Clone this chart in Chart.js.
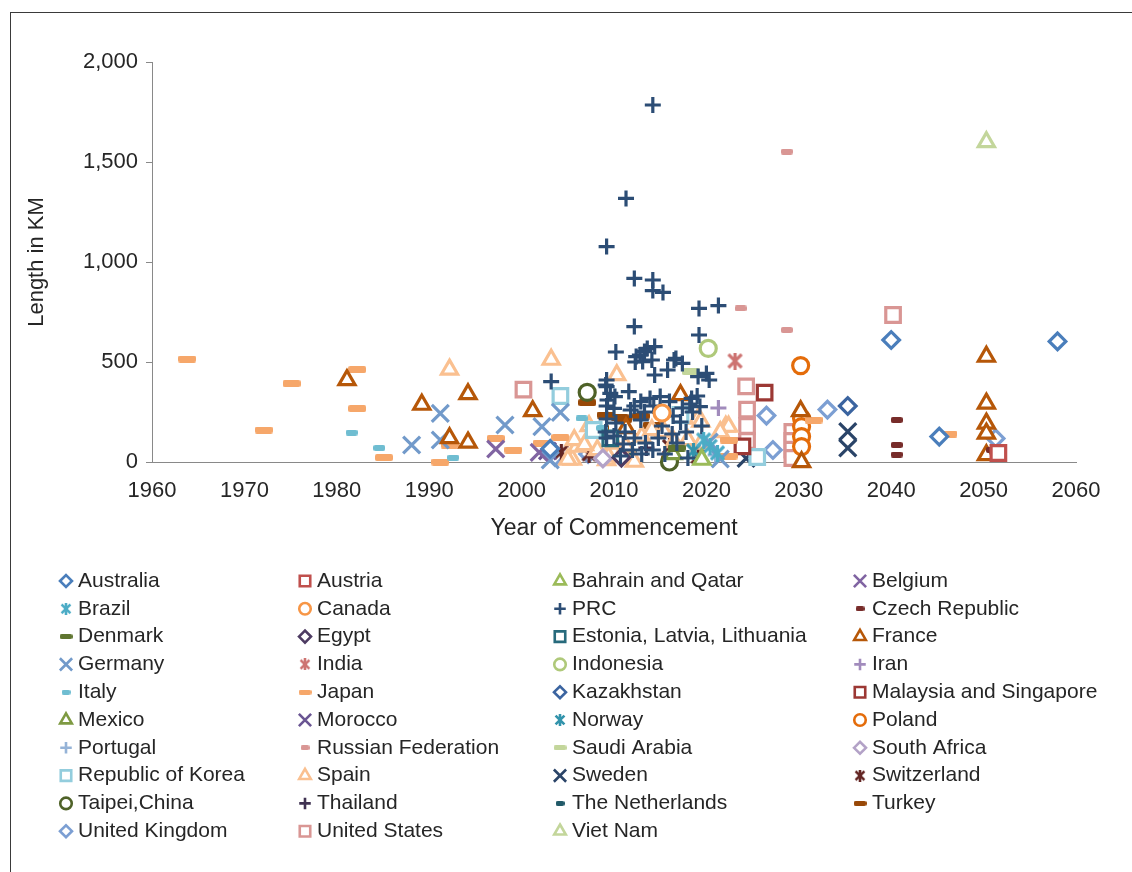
<!DOCTYPE html>
<html><head><meta charset="utf-8">
<script src="https://cdn.jsdelivr.net/npm/chart.js@4.4.1/dist/chart.umd.min.js"></script>
<style>
html,body{margin:0;padding:0;background:#fff;}
#wrap{position:relative;width:1132px;height:872px;overflow:hidden;}
#frame{position:absolute;left:10px;top:12px;width:1140px;height:880px;border:1px solid #3a3a3a;box-sizing:border-box;}
canvas{position:absolute;left:0;top:0;}
</style></head>
<body><div id="wrap"><div id="frame"></div><canvas id="c" width="1132" height="872"></canvas></div>
<script>
// ---- data: [year of commencement, length in km] ----
const australia = [[2040,610],[2058,603],[2045.2,127],[2003.1,66]];
const austria = [[2051.6,45]];
const bahrainQatar = [[2019.5,12]];
const belgium = [[1997.2,65],[2001.9,48]];
const brazil = [[2020.4,78],[2019.7,110],[2021.2,45]];
const canada = [[2015.2,245]];
const prc = [[2014.2,1785],[2011.3,1318],[2009.2,1077],[2012.2,918],[2014.2,910],[2014.2,857],[2015.3,848],[2019.2,768],[2021.3,782],[2012.2,677],[2019.2,635],
  [2003.2,402],[2010.2,550],[2012.4,527],[2012.8,535],[2013.3,552],[2013.6,568],[2014.4,577],[2012.3,500],[2013.1,502],[2014.1,510],[2016.5,510],[2016.7,518],[2017.4,493],[2020,443],[2019.1,427],[2014.4,435],[2015.8,460],[2009.2,410],[2009.1,385],[2009.2,377],[2009.6,343],[2010.1,327],[2011.6,352],[2012.9,302],[2013.9,318],[2015,327],[2016,302],[2018.4,318],[2019.3,277],[2010,268],[2011.8,260],[2015,252],[2012.9,210],
  [2010.2,195],[2011.2,150],[2012.2,120],[2013.4,95],[2014.2,60],[2015.2,180],[2016.3,140],[2017.2,200],[2018.2,290],[2019,330],[2020.3,410],[2009.1,150],[2010,130],[2012.2,280],[2013.3,250],[2014.3,280],[2016.4,230],[2017.4,270],[2018.5,250],[2009.3,310],[2009.2,280],[2009.2,215],[2009.2,120],[2011,90],[2013,40],[2015.5,40],[2017.8,150],[2019.5,180],[2018,20],[2014.8,120],[2016.8,95],[2012,60],[2010.7,30]];
const czechRepublic = [[2040.6,210],[2040.6,85],[2040.6,37],[2050.9,60]];
const denmark = [[2016.8,70]];
const egypt = [[2010.8,22]];
const estonia = [[2009.6,118]];
const france = [[1981.1,410],[1989.2,287],[1992.2,120],[1994.2,340],[1994.2,98],[2001.2,255],[2011.3,170],[2017.2,335],[2030.2,255],[2030.3,0],[2050.3,527],[2050.3,293],[2050.3,193],[2050.3,143],[2050.3,35]];
const germany = [[1988.1,85],[1991.2,243],[1991.2,110],[1998.2,185],[2002.2,177],[2004.2,248],[2003.1,10],[2021.5,15],[2020.3,100]];
const india = [[2023.1,505]];
const indonesia = [[2020.2,568]];
const iran = [[2021.3,270]];
const italy = [[1981.6,147],[1984.6,70],[1992.6,22],[2006.5,218],[2008.7,170]];
const japan = [[1963.8,515],[1972.1,160],[1975.1,392],[1982.2,462],[1982.2,267],[1985.1,22],[1991.2,0],[1992.2,85],[1997.2,118],[1999.1,60],[2002.2,95],[2004.2,123],[2022.4,110],[2022.4,30],[2031.6,210],[2046.2,140]];
const kazakhstan = [[2035.3,280]];
const malaysiaSingapore = [[2026.3,347],[2023.9,78]];
const mexico = [[2016.4,40]];
const morocco = [[2002.8,55]];
const norway = [[2018.6,55]];
const poland = [[2030.2,482],[2030.3,218],[2030.3,177],[2030.3,127],[2030.3,77]];
const portugal = [[2021,35]];
const russia = [[2028.7,1552],[2023.7,768],[2028.7,660]];
const saudiArabia = [[2018.3,452]];
const southAfrica = [[2008.8,18]];
const korea = [[2004.2,330],[2017.2,235],[2025.5,25],[2007.8,160]];
const spain = [[1992.2,463],[2003.2,512],[2010.3,435],[2005.5,12],[2007.3,180],[2006,77],[2008.2,60],[2010,93],[2011,27],[2009.2,10],[2005,12],[2019.1,218],[2022.1,177],[2013,127],[2014.1,160],[2015.4,152],[2011.3,77],[2009.4,27],[2005.7,110],[2006.8,85],[2018,110],[2019.4,93],[2012.2,2],[2019.4,202],[2022.4,177],[2016.5,100],[2021.5,150]];
const sweden = [[2035.3,152],[2035.3,70],[2024.3,18]];
const switzerland = [[2004.3,50],[2016,77],[2019.1,27],[2007.3,40]];
const taipei = [[2007.1,348],[2016,0]];
const thailand = [[2013.5,70]];
const netherlands = [[2011.8,45]];
const turkey = [[2007.1,297],[2009.1,235],[2010.6,225],[2011,213],[2014.1,185],[2016.1,18],[2012.9,230],[2008.5,170]];
const unitedKingdom = [[2026.5,232],[2033.1,262],[2027.2,60],[2007.2,40],[2051.3,118],[2003.6,25]];
const unitedStates = [[2000.2,362],[2040.2,735],[2024.3,378],[2024.4,262],[2024.4,180],[2024.4,105],[2029.3,150],[2029.3,105],[2029.3,62],[2029.3,20]];
const vietNam = [[2050.3,1600]];

const xTicks = [1960,1970,1980,1990,2000,2010,2020,2030,2040,2050,2060];
const yTicks = [0,500,1000,1500,2000];

// ---- series: label, data, marker, colour ----
const series = [
 ['Australia', australia, 'diamond', '#4A7EBB'],
 ['Austria', austria, 'square', '#C0504D'],
 ['Bahrain and Qatar', bahrainQatar, 'triangle', '#9BBB59'],
 ['Belgium', belgium, 'x', '#8064A2'],
 ['Brazil', brazil, 'star', '#4BACC6'],
 ['Canada', canada, 'circle', '#F79646'],
 ['PRC', prc, 'plus', '#2C4D75'],
 ['Czech Republic', czechRepublic, 'shortdash', '#772C2A'],
 ['Denmark', denmark, 'longdash', '#5F7530'],
 ['Egypt', egypt, 'diamond', '#4D3B62'],
 ['Estonia, Latvia, Lithuania', estonia, 'square', '#276A7C'],
 ['France', france, 'triangle', '#B65708'],
 ['Germany', germany, 'x', '#729ACA'],
 ['India', india, 'star', '#CD7371'],
 ['Indonesia', indonesia, 'circle', '#AFC97A'],
 ['Iran', iran, 'plus', '#A18BBC'],
 ['Italy', italy, 'shortdash', '#6FBDD1'],
 ['Japan', japan, 'longdash', '#F6A76A'],
 ['Kazakhstan', kazakhstan, 'diamond', '#3B64A0'],
 ['Malaysia and Singapore', malaysiaSingapore, 'square', '#9C3834'],
 ['Mexico', mexico, 'triangle', '#7E9A42'],
 ['Morocco', morocco, 'x', '#6A5593'],
 ['Norway', norway, 'star', '#3394AC'],
 ['Poland', poland, 'circle', '#E46C0A'],
 ['Portugal', portugal, 'plus', '#95B3D7'],
 ['Russian Federation', russia, 'shortdash', '#D99694'],
 ['Saudi Arabia', saudiArabia, 'longdash', '#C3D69B'],
 ['South Africa', southAfrica, 'diamond', '#B3A2C7'],
 ['Republic of Korea', korea, 'square', '#93CDDD'],
 ['Spain', spain, 'triangle', '#FAC090'],
 ['Sweden', sweden, 'x', '#2A4468'],
 ['Switzerland', switzerland, 'star', '#632523'],
 ['Taipei,China', taipei, 'circle', '#4F6228'],
 ['Thailand', thailand, 'plus', '#3F3151'],
 ['The Netherlands', netherlands, 'shortdash', '#215968'],
 ['Turkey', turkey, 'longdash', '#984807'],
 ['United Kingdom', unitedKingdom, 'diamond', '#7C9FD3'],
 ['United States', unitedStates, 'square', '#D99694'],
 ['Viet Nam', vietNam, 'triangle', '#C3D69B']
];

// ---- marker drawing helpers ----
function dashImg(w, h, color) {
  const c = document.createElement('canvas'); c.width = w; c.height = h;
  const g = c.getContext('2d'); g.fillStyle = color;
  const r = Math.min(2, h / 2);
  g.beginPath(); g.moveTo(r, 0); g.lineTo(w - r, 0); g.quadraticCurveTo(w, 0, w, r);
  g.lineTo(w, h - r); g.quadraticCurveTo(w, h, w - r, h); g.lineTo(r, h);
  g.quadraticCurveTo(0, h, 0, h - r); g.lineTo(0, r); g.quadraticCurveTo(0, 0, r, 0); g.fill();
  return c;
}
function starImg(s, lw, color) {
  const c = document.createElement('canvas'); c.width = s; c.height = s;
  const g = c.getContext('2d'); g.strokeStyle = color; g.lineWidth = lw;
  const m = lw * 0.6;
  g.beginPath();
  g.moveTo(m, m); g.lineTo(s - m, s - m);
  g.moveTo(s - m, m); g.lineTo(m, s - m);
  g.moveTo(s / 2, 0); g.lineTo(s / 2, s);
  g.stroke();
  return c;
}
function markerOpts(kind, color, legend) {
  const k = legend ? 0.72 : 1;
  const bw = legend ? 2.6 : 3.2;
  switch (kind) {
    case 'diamond': return {pointStyle: 'rectRot', radius: 8.3 * k, borderWidth: bw};
    case 'square': return {pointStyle: 'rect', radius: 10.3 * k, borderWidth: bw};
    case 'triangle': return {pointStyle: 'triangle', radius: 9.3 * k, borderWidth: bw};
    case 'circle': return {pointStyle: 'circle', radius: 8 * k, borderWidth: bw};
    case 'plus': return {pointStyle: 'cross', radius: 8 * k, borderWidth: bw};
    case 'x': return {pointStyle: 'crossRot', radius: 12 * k, borderWidth: bw};
    case 'star': return {pointStyle: legend ? starImg(12, 2.6, color) : starImg(17, 3.2, color), radius: 8, borderWidth: 0};
    case 'shortdash': return {pointStyle: legend ? dashImg(9, 5, color) : dashImg(12, 6, color), radius: 6, borderWidth: 0};
    case 'longdash': return {pointStyle: legend ? dashImg(13, 5, color) : dashImg(18, 7, color), radius: 8, borderWidth: 0};
  }
}

const datasets = series.map(([label, pts, kind, color]) => {
  const m = markerOpts(kind, color, false);
  return {
    label,
    data: pts.map(p => ({x: p[0], y: p[1]})),
    pointStyle: m.pointStyle,
    pointRadius: m.radius,
    pointHoverRadius: m.radius,
    pointBorderWidth: m.borderWidth,
    borderColor: color,
    backgroundColor: '#ffffff',
    showLine: false,
    clip: false,
    kind, color
  };
});

// ---- grid legend drawn under the plot ----
const LEG_MARK_X = [66, 305, 560, 860];
const LEG_TEXT_X = [78, 317, 572, 872];
const LEG_ROW0 = 581, LEG_STEP = 27.8;
const gridLegend = {
  id: 'gridLegend',
  afterDraw(chart) {
    const ctx = chart.ctx;
    chart.data.datasets.forEach((ds, i) => {
      const col = i % 4, row = Math.floor(i / 4);
      const y = LEG_ROW0 + row * LEG_STEP;
      const m = markerOpts(ds.kind, ds.color, true);
      ctx.save();
      ctx.strokeStyle = ds.color; ctx.fillStyle = '#ffffff'; ctx.lineWidth = m.borderWidth;
      Chart.helpers.drawPoint(ctx, {pointStyle: m.pointStyle, radius: m.radius, borderWidth: m.borderWidth, rotation: 0}, LEG_MARK_X[col], y);
      ctx.restore();
      ctx.save();
      ctx.font = '21px "Liberation Sans", Arial, sans-serif';
      ctx.fillStyle = '#262626'; ctx.textBaseline = 'middle'; ctx.textAlign = 'left';
      ctx.fillText(ds.label, LEG_TEXT_X[col], y);
      ctx.restore();
    });
  }
};

const FONT = {family: '"Liberation Sans", Arial, sans-serif', size: 22};
const TITLE_FONT = {family: '"Liberation Sans", Arial, sans-serif', size: 23};
new Chart(document.getElementById('c'), {
  type: 'scatter',
  data: {datasets},
  plugins: [gridLegend],
  options: {
    responsive: false, animation: false, devicePixelRatio: 1,
    layout: {padding: {left: 20, right: 56, top: 62, bottom: 326}},
    plugins: {legend: {display: false}, tooltip: {enabled: false}},
    scales: {
      x: {
        type: 'linear', min: 1960, max: 2060,
        afterBuildTicks: s => { s.ticks = xTicks.map(v => ({value: v})); },
        afterFit: s => { s.height = 84; },
        ticks: {color: '#262626', font: FONT, padding: 16, callback: v => String(v), maxRotation: 0},
        grid: {display: false, drawTicks: false},
        border: {display: true, color: '#898989', width: 1},
        title: {display: true, text: 'Year of Commencement', color: '#262626', font: TITLE_FONT, padding: {top: 6, bottom: 4}}
      },
      y: {
        type: 'linear', min: 0, max: 2000,
        afterBuildTicks: s => { s.ticks = yTicks.map(v => ({value: v})); },
        afterFit: s => { s.width = 132; },
        ticks: {color: '#262626', font: FONT, padding: 8, callback: v => v.toLocaleString('en-US')},
        grid: {drawOnChartArea: false, drawTicks: true, tickLength: 6, color: '#898989'},
        border: {display: true, color: '#898989', width: 1},
        title: {display: true, text: 'Length in KM', color: '#262626', font: FONT, padding: {top: 4, bottom: 4}}
      }
    }
  }
});
</script></body></html>
